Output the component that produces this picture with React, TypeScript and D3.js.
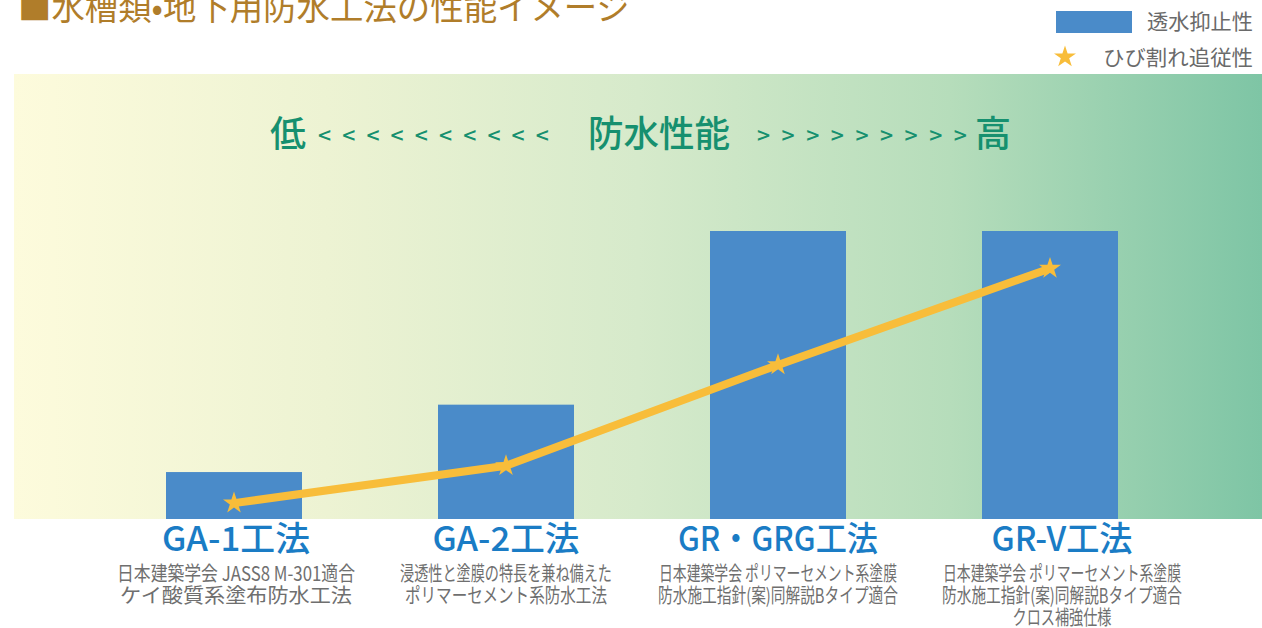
import React from "react";
import * as d3 from "d3";

const categories = ["GA-1工法", "GA-2工法", "GR・GRG工法", "GR-V工法"];
const barValues = [1.63, 3.97, 10, 10];
const lineValues = [0.55, 1.85, 5.35, 8.7];
const subLabels = [
  ["日本建築学会 JASS8 M-301適合", "ケイ酸質系塗布防水工法"],
  ["浸透性と塗膜の特長を兼ね備えた", "ポリマーセメント系防水工法"],
  ["日本建築学会 ポリマーセメント系塗膜", "防水施工指針(案)同解説Bタイプ適合"],
  ["日本建築学会 ポリマーセメント系塗膜", "防水施工指針(案)同解説Bタイプ適合", "クロス補強仕様"],
];
const subLabelWidths = [
  [238, 232],
  [212, 202],
  [238, 240],
  [238, 240, 99],
];
const titleWidths = [148, 147, 200, 141];
const legendLabels = ["透水抑止性", "ひび割れ追従性"];
const titleText = "■水槽類•地下用防水工法の性能イメージ";
const axisLow = "低";
const axisHigh = "高";
const axisMid = "防水性能";
const lowArrowCount = 10;
const highArrowCount = 9;

const W = 1262;
const H = 628;
const FONT = "'Noto Sans CJK JP', 'Noto Sans', sans-serif";

export default function App() {
  const plot = { left: 14, right: 1262, top: 74, bottom: 519 };
  const x = d3
    .scaleBand<string>()
    .domain(categories)
    .range([98, 1186])
    .paddingInner(0.5)
    .paddingOuter(0.25);
  const y = d3.scaleLinear().domain([0, 10]).range([plot.bottom, 231]);

  const labelShift = [2, 0, 0, 12];

  const linePts: [number, number][] = categories.map((c, i) => [
    (x(c) as number) + x.bandwidth() / 2,
    y(lineValues[i]),
  ]);
  const lineGen = d3.line();
  const star = d3.symbol().type(d3.symbolStar).size(150)();
  const legendStar = d3.symbol().type(d3.symbolStar).size(150)();

  const lowArrows = d3.range(lowArrowCount).map((i) => 318 + i * 24.2);
  const highArrows = d3.range(highArrowCount).map((i) => 757 + i * 24.6);

  return (
    <svg
      width={W}
      height={H}
      style={{ position: "absolute", left: 0, top: 0, fontFamily: FONT }}
    >
      <defs>
        <linearGradient id="bg" x1="0" x2="1" y1="0" y2="0">
          <stop offset="0%" stopColor="#fdfbdc" />
          <stop offset="25%" stopColor="#edf3d3" />
          <stop offset="50%" stopColor="#d6eacb" />
          <stop offset="75%" stopColor="#b6ddbb" />
          <stop offset="100%" stopColor="#7ec5a5" />
        </linearGradient>
      </defs>
      <rect width={W} height={H} fill="#ffffff" />
      <text
        x={18}
        y={20}
        fontSize={34}
        fill="#b07d2a"
        textLength={612}
        lengthAdjust="spacingAndGlyphs"
      >
        {titleText}
      </text>

      {/* legend */}
      <rect x={1056} y={11} width={76} height={22} fill="#4a8bc9" />
      <text x={1147} y={29} fontSize={21} fill="#6a6a6a" textLength={106} lengthAdjust="spacingAndGlyphs">
        {legendLabels[0]}
      </text>
      <path d={legendStar || ""} transform="translate(1065,57)" fill="#f8bd3a" />
      <text x={1103} y={65} fontSize={21} fill="#6a6a6a" textLength={150} lengthAdjust="spacingAndGlyphs">
        {legendLabels[1]}
      </text>

      <rect
        x={plot.left}
        y={plot.top}
        width={plot.right - plot.left}
        height={plot.bottom - plot.top}
        fill="url(#bg)"
      />

      {/* performance axis */}
      <g fill="#16906f" fontWeight={500}>
        <text x={270} y={147} fontSize={36}>
          {axisLow}
        </text>
        {lowArrows.map((ax, i) => (
          <text key={`l${i}`} x={ax} y={144} fontSize={23}>
            {"<"}
          </text>
        ))}
        <text x={588} y={147} fontSize={36} textLength={142} lengthAdjust="spacingAndGlyphs">
          {axisMid}
        </text>
        {highArrows.map((ax, i) => (
          <text key={`h${i}`} x={ax} y={144} fontSize={23}>
            {">"}
          </text>
        ))}
        <text x={975} y={147} fontSize={36}>
          {axisHigh}
        </text>
      </g>

      {/* bars */}
      {categories.map((c, i) => (
        <rect
          key={c}
          x={x(c)}
          y={y(barValues[i])}
          width={x.bandwidth()}
          height={plot.bottom - y(barValues[i])}
          fill="#4a8bc9"
        />
      ))}

      {/* line */}
      <path d={lineGen(linePts) || ""} fill="none" stroke="#f8bd3a" strokeWidth={8} strokeLinejoin="round" />
      {linePts.map((p, i) => (
        <path key={i} d={star || ""} transform={`translate(${p[0]},${p[1]})`} fill="#f8bd3a" />
      ))}

      {/* category labels */}
      {categories.map((c, i) => {
        const cx = (x(c) as number) + x.bandwidth() / 2 + labelShift[i];
        return (
          <g key={c}>
            <text
              x={cx}
              y={551}
              fontSize={34}
              fill="#1a7cc5"
              textAnchor="middle"
              fontWeight={500}
              textLength={titleWidths[i]}
              lengthAdjust="spacingAndGlyphs"
            >
              {c}
            </text>
            {subLabels[i].map((s, j) => (
              <text
                key={j}
                x={cx}
                y={581 + j * 22}
                fontSize={20}
                fill="#6f6f6f"
                textAnchor="middle"
                textLength={subLabelWidths[i][j]}
                lengthAdjust="spacingAndGlyphs"
              >
                {s}
              </text>
            ))}
          </g>
        );
      })}
    </svg>
  );
}
